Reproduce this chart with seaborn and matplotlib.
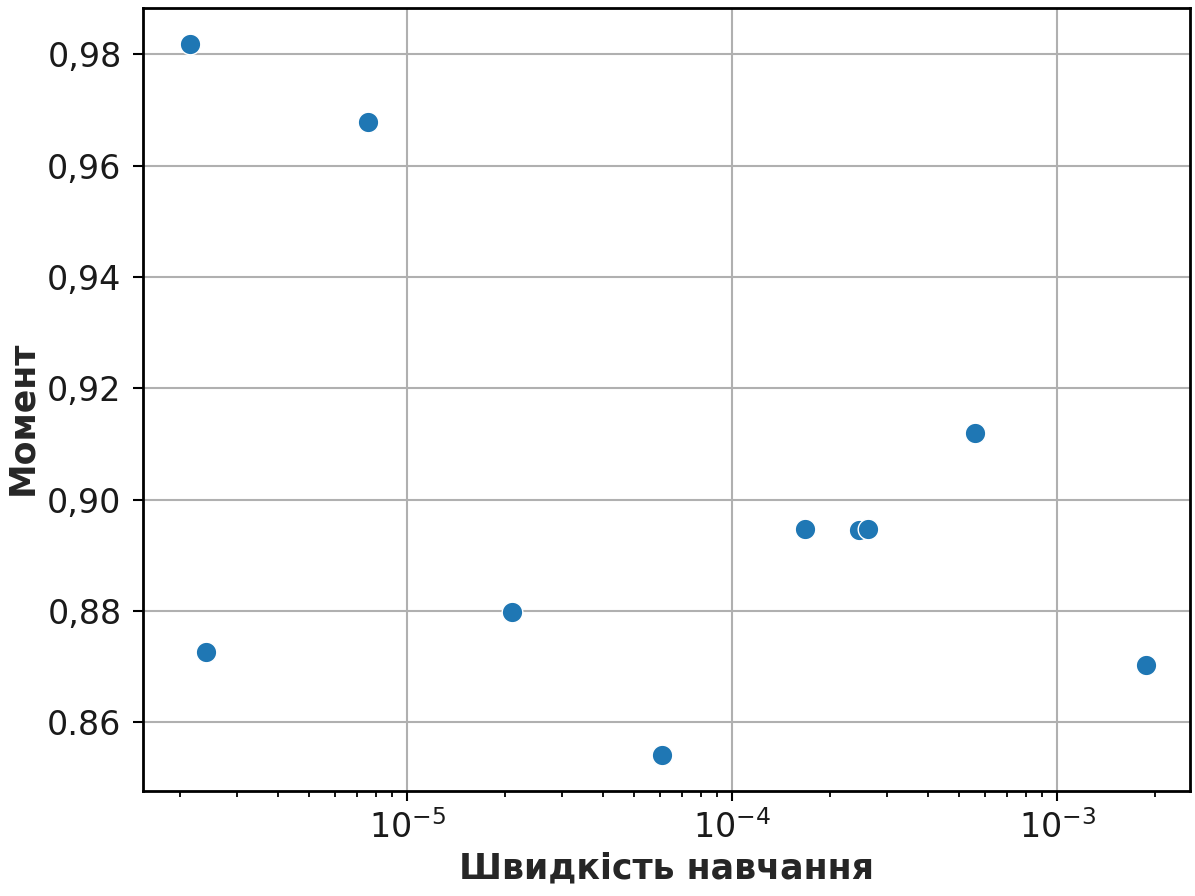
import matplotlib
matplotlib.use("Agg")
import matplotlib.pyplot as plt
import seaborn as sns
import pandas as pd

# learning rate vs momentum
learning_rate = [2.15e-6, 7.59e-6, 2.41e-6, 2.10e-5, 6.09e-5,
                 1.67e-4, 2.46e-4, 2.62e-4, 5.60e-4, 1.87e-3]
momentum = [0.9818, 0.9678, 0.8727, 0.8799, 0.8542,
            0.8948, 0.8945, 0.8948, 0.9119, 0.8704]

y_ticks = [0.86, 0.88, 0.90, 0.92, 0.94, 0.96, 0.98]
y_labels = ["0.86", "0,88", "0,90", "0,92", "0,94", "0,96", "0,98"]

df = pd.DataFrame({"lr": learning_rate, "mom": momentum})

plt.rcParams['font.family'] = ['DejaVu Sans']

fig = plt.figure(figsize=(11.95, 8.96), dpi=100)
ax = fig.add_axes([0.1197, 0.1172, 0.8761, 0.8739])

sns.scatterplot(data=df, x="lr", y="mom", ax=ax, s=220, color="#1f77b4",
                edgecolor="white", linewidth=1.0, zorder=3)

ax.set_xscale("log")
ax.set_xlim(1.54e-6, 2.56e-3)
ax.set_ylim(0.8477, 0.9883)
ax.set_yticks(y_ticks, y_labels)
ax.grid(True, which="major", color="#b0b0b0", linewidth=1.5)
ax.set_axisbelow(True)

for sp in ax.spines.values():
    sp.set_linewidth(2)
ax.tick_params(axis="both", which="major", labelsize=24, length=7.5, width=1.5,
               labelcolor="#1a1a1a")
ax.tick_params(axis="y", which="major", pad=8)
ax.tick_params(axis="x", which="major", pad=6)
ax.tick_params(axis="x", which="minor", length=4.5, width=1.3)

ax.set_xlabel("Швидкість навчання", fontsize=25, fontweight="bold", color="#262626")
ax.set_ylabel("Момент", fontsize=25, fontweight="bold", color="#262626")
ax.xaxis.set_label_coords(0.5, -0.077)
ax.yaxis.set_label_coords(-0.099, 0.476)

plt.savefig("out.png", dpi=100)
